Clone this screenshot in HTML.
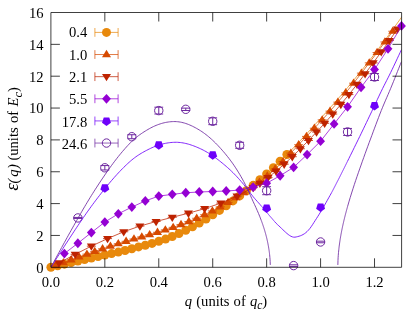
<!DOCTYPE html>
<html><head><meta charset="utf-8"><title>chart</title>
<style>html,body{margin:0;padding:0;background:#fff;}svg{display:block;}</style></head>
<body>
<svg style="will-change:transform" width="415" height="313" viewBox="0 0 415 313">
<rect width="415" height="313" fill="#fff"/>
<defs><clipPath id="cp"><rect x="50.90" y="12.50" width="350.60" height="254.80"/></clipPath></defs>
<g font-family="Liberation Serif, serif" font-size="14.6px" fill="#000">
<text x="50.90" y="286.5" text-anchor="middle">0.0</text>
<text x="104.84" y="286.5" text-anchor="middle">0.2</text>
<text x="158.78" y="286.5" text-anchor="middle">0.4</text>
<text x="212.72" y="286.5" text-anchor="middle">0.6</text>
<text x="266.65" y="286.5" text-anchor="middle">0.8</text>
<text x="320.59" y="286.5" text-anchor="middle">1.0</text>
<text x="374.53" y="286.5" text-anchor="middle">1.2</text>
<text x="43.5" y="272.60" text-anchor="end">0</text>
<text x="43.5" y="240.75" text-anchor="end">2</text>
<text x="43.5" y="208.90" text-anchor="end">4</text>
<text x="43.5" y="177.05" text-anchor="end">6</text>
<text x="43.5" y="145.20" text-anchor="end">8</text>
<text x="43.5" y="113.35" text-anchor="end">10</text>
<text x="43.5" y="81.50" text-anchor="end">12</text>
<text x="43.5" y="49.65" text-anchor="end">14</text>
<text x="43.5" y="17.80" text-anchor="end">16</text>
<text x="226" y="305.7" text-anchor="middle" word-spacing="0.5"><tspan font-style="italic">q</tspan> (units of <tspan font-style="italic">q</tspan><tspan font-style="italic" font-size="11.5px" dy="3.6">c</tspan><tspan dy="-3.6">)</tspan></text>
<g transform="translate(18.2,0) rotate(-90)"><text font-style="italic" font-size="19px" x="-190.8">&#949;</text><text font-style="italic" x="-183.6 -176.8 -169.0">(q)</text><text x="-160.6" word-spacing="0.7"><tspan>(units of </tspan><tspan font-style="italic">E</tspan><tspan font-style="italic" font-size="12.5px" dy="3.8">c</tspan><tspan dy="-3.8">)</tspan></text></g>
<text x="87.3" y="37.40" text-anchor="end">0.4</text>
<text x="87.3" y="59.70" text-anchor="end">1.0</text>
<text x="87.3" y="82.00" text-anchor="end">2.1</text>
<text x="87.3" y="104.30" text-anchor="end">5.5</text>
<text x="87.3" y="126.60" text-anchor="end">17.8</text>
<text x="87.3" y="148.90" text-anchor="end">24.6</text>
</g>
<g>
<polyline clip-path="url(#cp)" fill="none" stroke="#E8890C" stroke-width="0.75" points="286.88,154.54 293.62,147.69 300.37,140.62 307.11,133.30 313.85,125.86 320.59,118.44 327.33,110.97 334.08,103.35 340.82,95.55 347.56,87.59 354.30,79.45 361.05,71.12 367.79,62.62 374.53,53.92 381.27,45.04 388.02,35.97 394.76,26.72 401.50,17.29 408.24,7.68 414.98,-2.12"/>
<polyline clip-path="url(#cp)" fill="none" stroke="#E8890C" stroke-width="0.75" points="50.90,267.30 57.64,265.73 64.38,264.17 71.13,262.60 77.87,261.03 84.61,259.48 91.35,257.98 98.10,256.52 104.84,255.05 111.58,253.60 118.32,252.11 125.07,250.53 131.81,248.75 138.55,246.93 145.29,245.27 152.03,243.44 158.78,241.36 165.52,239.06 172.26,236.45 179.00,233.46 185.75,230.21 192.49,226.72 199.23,222.98 205.97,219.04 212.72,214.84 219.46,210.38 226.20,205.74 232.94,200.91 239.68,195.90 246.43,190.71 253.17,185.34 259.91,179.78 266.65,173.93 273.40,167.73 280.14,161.25 286.88,154.54"/>
<circle cx="50.90" cy="267.30" r="4.5" fill="#E8890C"/>
<circle cx="57.64" cy="265.73" r="4.5" fill="#E8890C"/>
<circle cx="64.38" cy="264.17" r="4.5" fill="#E8890C"/>
<circle cx="71.13" cy="262.60" r="4.5" fill="#E8890C"/>
<circle cx="77.87" cy="261.03" r="4.5" fill="#E8890C"/>
<circle cx="84.61" cy="259.48" r="4.5" fill="#E8890C"/>
<circle cx="91.35" cy="257.98" r="4.5" fill="#E8890C"/>
<circle cx="98.10" cy="256.52" r="4.5" fill="#E8890C"/>
<circle cx="104.84" cy="255.05" r="4.5" fill="#E8890C"/>
<circle cx="111.58" cy="253.60" r="4.5" fill="#E8890C"/>
<circle cx="118.32" cy="252.11" r="4.5" fill="#E8890C"/>
<circle cx="125.07" cy="250.53" r="4.5" fill="#E8890C"/>
<circle cx="131.81" cy="248.75" r="4.5" fill="#E8890C"/>
<circle cx="138.55" cy="246.93" r="4.5" fill="#E8890C"/>
<circle cx="145.29" cy="245.27" r="4.5" fill="#E8890C"/>
<circle cx="152.03" cy="243.44" r="4.5" fill="#E8890C"/>
<circle cx="158.78" cy="241.36" r="4.5" fill="#E8890C"/>
<circle cx="165.52" cy="239.06" r="4.5" fill="#E8890C"/>
<circle cx="172.26" cy="236.45" r="4.5" fill="#E8890C"/>
<circle cx="179.00" cy="233.46" r="4.5" fill="#E8890C"/>
<circle cx="185.75" cy="230.21" r="4.5" fill="#E8890C"/>
<circle cx="192.49" cy="226.72" r="4.5" fill="#E8890C"/>
<circle cx="199.23" cy="222.98" r="4.5" fill="#E8890C"/>
<circle cx="205.97" cy="219.04" r="4.5" fill="#E8890C"/>
<circle cx="212.72" cy="214.84" r="4.5" fill="#E8890C"/>
<circle cx="219.46" cy="210.38" r="4.5" fill="#E8890C"/>
<circle cx="226.20" cy="205.74" r="4.5" fill="#E8890C"/>
<circle cx="232.94" cy="200.91" r="4.5" fill="#E8890C"/>
<circle cx="239.68" cy="195.90" r="4.5" fill="#E8890C"/>
<circle cx="246.43" cy="190.71" r="4.5" fill="#E8890C"/>
<circle cx="253.17" cy="185.34" r="4.5" fill="#E8890C"/>
<circle cx="259.91" cy="179.78" r="4.5" fill="#E8890C"/>
<circle cx="266.65" cy="173.93" r="4.5" fill="#E8890C"/>
<circle cx="273.40" cy="167.73" r="4.5" fill="#E8890C"/>
<circle cx="280.14" cy="161.25" r="4.5" fill="#E8890C"/>
<circle cx="286.88" cy="154.54" r="4.5" fill="#E8890C"/>
<polyline clip-path="url(#cp)" fill="none" stroke="#D64A00" stroke-width="0.75" points="55.54,265.57 63.38,262.67 71.22,259.79 79.07,256.94 86.91,254.16 94.75,251.44 102.59,248.81 110.44,246.24 118.28,243.73 126.12,241.32 133.97,239.01 141.81,236.83 149.65,234.60 157.49,232.28 165.34,229.90 173.18,227.35 181.02,224.55 188.86,221.53 196.71,218.28 204.55,214.76 212.39,210.94 220.23,206.80 228.08,202.37 235.92,197.64 243.76,192.73 251.61,187.61 259.45,182.17 267.29,176.03 275.13,169.06 282.98,161.64 290.82,153.09 298.66,144.71 306.50,136.42 314.35,128.26 322.19,119.85 330.03,111.14 337.87,102.12 345.72,92.82 353.56,83.18 361.40,73.14 369.24,62.86 377.09,52.50 384.93,41.97 392.77,31.22"/>
<path d="M55.54 260.87l4.5 7.3h-9z" fill="#D64A00"/><path d="M51.04 265.57h9" stroke="#D64A00" stroke-width="0.8"/>
<path d="M63.38 257.97l4.5 7.3h-9z" fill="#D64A00"/><path d="M58.88 262.67h9" stroke="#D64A00" stroke-width="0.8"/>
<path d="M71.22 255.09l4.5 7.3h-9z" fill="#D64A00"/><path d="M66.72 259.79h9" stroke="#D64A00" stroke-width="0.8"/>
<path d="M79.07 252.24l4.5 7.3h-9z" fill="#D64A00"/><path d="M74.57 256.94h9" stroke="#D64A00" stroke-width="0.8"/>
<path d="M86.91 249.46l4.5 7.3h-9z" fill="#D64A00"/><path d="M82.41 254.16h9" stroke="#D64A00" stroke-width="0.8"/>
<path d="M94.75 246.74l4.5 7.3h-9z" fill="#D64A00"/><path d="M90.25 251.44h9" stroke="#D64A00" stroke-width="0.8"/>
<path d="M102.59 244.11l4.5 7.3h-9z" fill="#D64A00"/><path d="M98.09 248.81h9" stroke="#D64A00" stroke-width="0.8"/>
<path d="M110.44 241.54l4.5 7.3h-9z" fill="#D64A00"/><path d="M105.94 246.24h9" stroke="#D64A00" stroke-width="0.8"/>
<path d="M118.28 239.03l4.5 7.3h-9z" fill="#D64A00"/><path d="M113.78 243.73h9" stroke="#D64A00" stroke-width="0.8"/>
<path d="M126.12 236.62l4.5 7.3h-9z" fill="#D64A00"/><path d="M121.62 241.32h9" stroke="#D64A00" stroke-width="0.8"/>
<path d="M133.97 234.31l4.5 7.3h-9z" fill="#D64A00"/><path d="M129.47 239.01h9" stroke="#D64A00" stroke-width="0.8"/>
<path d="M141.81 232.13l4.5 7.3h-9z" fill="#D64A00"/><path d="M137.31 236.83h9" stroke="#D64A00" stroke-width="0.8"/>
<path d="M149.65 229.90l4.5 7.3h-9z" fill="#D64A00"/><path d="M145.15 234.60h9" stroke="#D64A00" stroke-width="0.8"/>
<path d="M157.49 227.58l4.5 7.3h-9z" fill="#D64A00"/><path d="M152.99 232.28h9" stroke="#D64A00" stroke-width="0.8"/>
<path d="M165.34 225.20l4.5 7.3h-9z" fill="#D64A00"/><path d="M160.84 229.90h9" stroke="#D64A00" stroke-width="0.8"/>
<path d="M173.18 222.65l4.5 7.3h-9z" fill="#D64A00"/><path d="M168.68 227.35h9" stroke="#D64A00" stroke-width="0.8"/>
<path d="M181.02 219.85l4.5 7.3h-9z" fill="#D64A00"/><path d="M176.52 224.55h9" stroke="#D64A00" stroke-width="0.8"/>
<path d="M188.86 216.83l4.5 7.3h-9z" fill="#D64A00"/><path d="M184.36 221.53h9" stroke="#D64A00" stroke-width="0.8"/>
<path d="M196.71 213.58l4.5 7.3h-9z" fill="#D64A00"/><path d="M192.21 218.28h9" stroke="#D64A00" stroke-width="0.8"/>
<path d="M204.55 210.06l4.5 7.3h-9z" fill="#D64A00"/><path d="M200.05 214.76h9" stroke="#D64A00" stroke-width="0.8"/>
<path d="M212.39 206.24l4.5 7.3h-9z" fill="#D64A00"/><path d="M207.89 210.94h9" stroke="#D64A00" stroke-width="0.8"/>
<path d="M220.23 202.10l4.5 7.3h-9z" fill="#D64A00"/><path d="M215.73 206.80h9" stroke="#D64A00" stroke-width="0.8"/>
<path d="M228.08 197.67l4.5 7.3h-9z" fill="#D64A00"/><path d="M223.58 202.37h9" stroke="#D64A00" stroke-width="0.8"/>
<path d="M235.92 192.94l4.5 7.3h-9z" fill="#D64A00"/><path d="M231.42 197.64h9" stroke="#D64A00" stroke-width="0.8"/>
<path d="M243.76 188.03l4.5 7.3h-9z" fill="#D64A00"/><path d="M239.26 192.73h9" stroke="#D64A00" stroke-width="0.8"/>
<path d="M251.61 182.91l4.5 7.3h-9z" fill="#D64A00"/><path d="M247.11 187.61h9" stroke="#D64A00" stroke-width="0.8"/>
<path d="M259.45 177.47l4.5 7.3h-9z" fill="#D64A00"/><path d="M254.95 182.17h9" stroke="#D64A00" stroke-width="0.8"/>
<path d="M267.29 171.33l4.5 7.3h-9z" fill="#D64A00"/><path d="M262.79 176.03h9" stroke="#D64A00" stroke-width="0.8"/>
<path d="M275.13 164.36l4.5 7.3h-9z" fill="#D64A00"/><path d="M270.63 169.06h9" stroke="#D64A00" stroke-width="0.8"/>
<path d="M282.98 156.94l4.5 7.3h-9z" fill="#D64A00"/><path d="M278.48 161.64h9" stroke="#D64A00" stroke-width="0.8"/>
<path d="M290.82 148.39l4.5 7.3h-9z" fill="#D64A00"/><path d="M286.32 153.09h9" stroke="#D64A00" stroke-width="0.8"/>
<path d="M298.66 140.01l4.5 7.3h-9z" fill="#D64A00"/><path d="M294.16 144.71h9" stroke="#D64A00" stroke-width="0.8"/>
<path d="M306.50 131.72l4.5 7.3h-9z" fill="#D64A00"/><path d="M302.00 136.42h9" stroke="#D64A00" stroke-width="0.8"/>
<path d="M314.35 123.56l4.5 7.3h-9z" fill="#D64A00"/><path d="M309.85 128.26h9" stroke="#D64A00" stroke-width="0.8"/>
<path d="M322.19 115.15l4.5 7.3h-9z" fill="#D64A00"/><path d="M317.69 119.85h9" stroke="#D64A00" stroke-width="0.8"/>
<path d="M330.03 106.44l4.5 7.3h-9z" fill="#D64A00"/><path d="M325.53 111.14h9" stroke="#D64A00" stroke-width="0.8"/>
<path d="M337.87 97.42l4.5 7.3h-9z" fill="#D64A00"/><path d="M333.37 102.12h9" stroke="#D64A00" stroke-width="0.8"/>
<path d="M345.72 88.12l4.5 7.3h-9z" fill="#D64A00"/><path d="M341.22 92.82h9" stroke="#D64A00" stroke-width="0.8"/>
<path d="M353.56 78.48l4.5 7.3h-9z" fill="#D64A00"/><path d="M349.06 83.18h9" stroke="#D64A00" stroke-width="0.8"/>
<path d="M361.40 68.44l4.5 7.3h-9z" fill="#D64A00"/><path d="M356.90 73.14h9" stroke="#D64A00" stroke-width="0.8"/>
<path d="M369.24 58.16l4.5 7.3h-9z" fill="#D64A00"/><path d="M364.74 62.86h9" stroke="#D64A00" stroke-width="0.8"/>
<path d="M377.09 47.80l4.5 7.3h-9z" fill="#D64A00"/><path d="M372.59 52.50h9" stroke="#D64A00" stroke-width="0.8"/>
<path d="M384.93 37.27l4.5 7.3h-9z" fill="#D64A00"/><path d="M380.43 41.97h9" stroke="#D64A00" stroke-width="0.8"/>
<path d="M392.77 26.52l4.5 7.3h-9z" fill="#D64A00"/><path d="M388.27 31.22h9" stroke="#D64A00" stroke-width="0.8"/>
<polyline clip-path="url(#cp)" fill="none" stroke="#BE2300" stroke-width="0.75" points="58.99,262.94 75.17,254.35 91.35,246.15 107.54,238.61 123.72,231.74 139.90,226.09 156.08,221.50 172.26,217.31 188.44,213.19 204.62,208.66 220.81,203.13 236.99,196.20 253.17,187.59 259.91,183.31 268.00,177.56 276.09,171.19 284.18,164.18 292.27,156.71 300.37,148.75 308.46,140.52 316.55,132.03 324.64,123.25 332.73,114.04 340.82,104.45 348.91,94.58 357.00,84.33 365.09,73.73 373.18,62.90 381.27,51.87 389.36,40.56 397.45,29.14"/>
<path d="M58.99 267.64l4.5 -7.3h-9z" fill="#BE2300"/><path d="M54.49 262.94h9" stroke="#BE2300" stroke-width="0.8"/>
<path d="M75.17 259.05l4.5 -7.3h-9z" fill="#BE2300"/><path d="M70.67 254.35h9" stroke="#BE2300" stroke-width="0.8"/>
<path d="M91.35 250.85l4.5 -7.3h-9z" fill="#BE2300"/><path d="M86.85 246.15h9" stroke="#BE2300" stroke-width="0.8"/>
<path d="M107.54 243.31l4.5 -7.3h-9z" fill="#BE2300"/><path d="M103.04 238.61h9" stroke="#BE2300" stroke-width="0.8"/>
<path d="M123.72 236.44l4.5 -7.3h-9z" fill="#BE2300"/><path d="M119.22 231.74h9" stroke="#BE2300" stroke-width="0.8"/>
<path d="M139.90 230.79l4.5 -7.3h-9z" fill="#BE2300"/><path d="M135.40 226.09h9" stroke="#BE2300" stroke-width="0.8"/>
<path d="M156.08 226.20l4.5 -7.3h-9z" fill="#BE2300"/><path d="M151.58 221.50h9" stroke="#BE2300" stroke-width="0.8"/>
<path d="M172.26 222.01l4.5 -7.3h-9z" fill="#BE2300"/><path d="M167.76 217.31h9" stroke="#BE2300" stroke-width="0.8"/>
<path d="M188.44 217.89l4.5 -7.3h-9z" fill="#BE2300"/><path d="M183.94 213.19h9" stroke="#BE2300" stroke-width="0.8"/>
<path d="M204.62 213.36l4.5 -7.3h-9z" fill="#BE2300"/><path d="M200.12 208.66h9" stroke="#BE2300" stroke-width="0.8"/>
<path d="M220.81 207.83l4.5 -7.3h-9z" fill="#BE2300"/><path d="M216.31 203.13h9" stroke="#BE2300" stroke-width="0.8"/>
<path d="M236.99 200.90l4.5 -7.3h-9z" fill="#BE2300"/><path d="M232.49 196.20h9" stroke="#BE2300" stroke-width="0.8"/>
<path d="M253.17 192.29l4.5 -7.3h-9z" fill="#BE2300"/><path d="M248.67 187.59h9" stroke="#BE2300" stroke-width="0.8"/>
<path d="M259.91 188.01l4.5 -7.3h-9z" fill="#BE2300"/><path d="M255.41 183.31h9" stroke="#BE2300" stroke-width="0.8"/>
<path d="M268.00 182.26l4.5 -7.3h-9z" fill="#BE2300"/><path d="M263.50 177.56h9" stroke="#BE2300" stroke-width="0.8"/>
<path d="M276.09 175.89l4.5 -7.3h-9z" fill="#BE2300"/><path d="M271.59 171.19h9" stroke="#BE2300" stroke-width="0.8"/>
<path d="M284.18 168.88l4.5 -7.3h-9z" fill="#BE2300"/><path d="M279.68 164.18h9" stroke="#BE2300" stroke-width="0.8"/>
<path d="M292.27 161.41l4.5 -7.3h-9z" fill="#BE2300"/><path d="M287.77 156.71h9" stroke="#BE2300" stroke-width="0.8"/>
<path d="M300.37 153.45l4.5 -7.3h-9z" fill="#BE2300"/><path d="M295.87 148.75h9" stroke="#BE2300" stroke-width="0.8"/>
<path d="M308.46 145.22l4.5 -7.3h-9z" fill="#BE2300"/><path d="M303.96 140.52h9" stroke="#BE2300" stroke-width="0.8"/>
<path d="M316.55 136.73l4.5 -7.3h-9z" fill="#BE2300"/><path d="M312.05 132.03h9" stroke="#BE2300" stroke-width="0.8"/>
<path d="M324.64 127.95l4.5 -7.3h-9z" fill="#BE2300"/><path d="M320.14 123.25h9" stroke="#BE2300" stroke-width="0.8"/>
<path d="M332.73 118.74l4.5 -7.3h-9z" fill="#BE2300"/><path d="M328.23 114.04h9" stroke="#BE2300" stroke-width="0.8"/>
<path d="M340.82 109.15l4.5 -7.3h-9z" fill="#BE2300"/><path d="M336.32 104.45h9" stroke="#BE2300" stroke-width="0.8"/>
<path d="M348.91 99.28l4.5 -7.3h-9z" fill="#BE2300"/><path d="M344.41 94.58h9" stroke="#BE2300" stroke-width="0.8"/>
<path d="M357.00 89.03l4.5 -7.3h-9z" fill="#BE2300"/><path d="M352.50 84.33h9" stroke="#BE2300" stroke-width="0.8"/>
<path d="M365.09 78.43l4.5 -7.3h-9z" fill="#BE2300"/><path d="M360.59 73.73h9" stroke="#BE2300" stroke-width="0.8"/>
<path d="M373.18 67.60l4.5 -7.3h-9z" fill="#BE2300"/><path d="M368.68 62.90h9" stroke="#BE2300" stroke-width="0.8"/>
<path d="M381.27 56.57l4.5 -7.3h-9z" fill="#BE2300"/><path d="M376.77 51.87h9" stroke="#BE2300" stroke-width="0.8"/>
<path d="M389.36 45.26l4.5 -7.3h-9z" fill="#BE2300"/><path d="M384.86 40.56h9" stroke="#BE2300" stroke-width="0.8"/>
<path d="M397.45 33.84l4.5 -7.3h-9z" fill="#BE2300"/><path d="M392.95 29.14h9" stroke="#BE2300" stroke-width="0.8"/>
<polyline clip-path="url(#cp)" fill="none" stroke="#9400D3" stroke-width="0.75" points="64.38,253.60 77.87,243.25 91.35,232.58 104.84,222.07 118.32,213.79 131.81,207.10 145.29,200.89 158.78,196.12 172.26,194.36 185.75,192.77 199.23,191.97 212.72,191.50 226.20,191.02 239.68,190.06 253.17,187.20 266.65,183.22 280.14,175.73 293.62,167.29 307.11,154.55 320.59,141.17 334.08,123.97 347.56,106.78 361.05,87.35 374.53,69.51 388.02,48.81 401.50,25.88"/>
<path d="M64.38 248.70l4.4 4.9l-4.4 4.9l-4.4 -4.9z" fill="#9400D3"/>
<path d="M77.87 238.35l4.4 4.9l-4.4 4.9l-4.4 -4.9z" fill="#9400D3"/>
<path d="M91.35 227.68l4.4 4.9l-4.4 4.9l-4.4 -4.9z" fill="#9400D3"/>
<path d="M104.84 217.17l4.4 4.9l-4.4 4.9l-4.4 -4.9z" fill="#9400D3"/>
<path d="M118.32 208.89l4.4 4.9l-4.4 4.9l-4.4 -4.9z" fill="#9400D3"/>
<path d="M131.81 202.20l4.4 4.9l-4.4 4.9l-4.4 -4.9z" fill="#9400D3"/>
<path d="M145.29 195.99l4.4 4.9l-4.4 4.9l-4.4 -4.9z" fill="#9400D3"/>
<path d="M158.78 191.22l4.4 4.9l-4.4 4.9l-4.4 -4.9z" fill="#9400D3"/>
<path d="M172.26 189.46l4.4 4.9l-4.4 4.9l-4.4 -4.9z" fill="#9400D3"/>
<path d="M185.75 187.87l4.4 4.9l-4.4 4.9l-4.4 -4.9z" fill="#9400D3"/>
<path d="M199.23 187.07l4.4 4.9l-4.4 4.9l-4.4 -4.9z" fill="#9400D3"/>
<path d="M212.72 186.60l4.4 4.9l-4.4 4.9l-4.4 -4.9z" fill="#9400D3"/>
<path d="M226.20 186.12l4.4 4.9l-4.4 4.9l-4.4 -4.9z" fill="#9400D3"/>
<path d="M239.68 185.16l4.4 4.9l-4.4 4.9l-4.4 -4.9z" fill="#9400D3"/>
<path d="M253.17 182.30l4.4 4.9l-4.4 4.9l-4.4 -4.9z" fill="#9400D3"/>
<path d="M266.65 178.32l4.4 4.9l-4.4 4.9l-4.4 -4.9z" fill="#9400D3"/>
<path d="M280.14 170.83l4.4 4.9l-4.4 4.9l-4.4 -4.9z" fill="#9400D3"/>
<path d="M293.62 162.39l4.4 4.9l-4.4 4.9l-4.4 -4.9z" fill="#9400D3"/>
<path d="M307.11 149.65l4.4 4.9l-4.4 4.9l-4.4 -4.9z" fill="#9400D3"/>
<path d="M320.59 136.27l4.4 4.9l-4.4 4.9l-4.4 -4.9z" fill="#9400D3"/>
<path d="M334.08 119.07l4.4 4.9l-4.4 4.9l-4.4 -4.9z" fill="#9400D3"/>
<path d="M347.56 101.88l4.4 4.9l-4.4 4.9l-4.4 -4.9z" fill="#9400D3"/>
<path d="M361.05 82.45l4.4 4.9l-4.4 4.9l-4.4 -4.9z" fill="#9400D3"/>
<path d="M374.53 64.61l4.4 4.9l-4.4 4.9l-4.4 -4.9z" fill="#9400D3"/>
<path d="M388.02 43.91l4.4 4.9l-4.4 4.9l-4.4 -4.9z" fill="#9400D3"/>
<path d="M401.50 20.98l4.4 4.9l-4.4 4.9l-4.4 -4.9z" fill="#9400D3"/>
<path d="M104.84 192.68L100.37 189.43L102.08 184.17L107.60 184.17L109.31 189.43z" fill="#6E00FA"/>
<path d="M158.78 149.68L154.31 146.43L156.01 141.18L161.54 141.18L163.25 146.43z" fill="#6E00FA"/>
<path d="M212.72 159.87L208.25 156.62L209.95 151.37L215.48 151.37L217.19 156.62z" fill="#6E00FA"/>
<path d="M266.65 212.90L262.18 209.65L263.89 204.40L269.42 204.40L271.12 209.65z" fill="#6E00FA"/>
<path d="M320.59 212.10L316.12 208.86L317.83 203.60L323.35 203.60L325.06 208.86z" fill="#6E00FA"/>
<path d="M374.53 110.50L370.06 107.25L371.77 102.00L377.29 102.00L379.00 107.25z" fill="#6E00FA"/>
<path d="M77.87 217.93V217.93M73.47 217.43h8.8M73.47 218.43h8.8" stroke="#6E28A0" stroke-width="1" fill="none"/>
<circle cx="77.87" cy="217.93" r="4.2" fill="none" stroke="#6E28A0" stroke-width="1"/>
<path d="M104.84 165.57V169.97M100.44 165.57h8.8M100.44 169.97h8.8" stroke="#6E28A0" stroke-width="1" fill="none"/>
<circle cx="104.84" cy="167.77" r="4.2" fill="none" stroke="#6E28A0" stroke-width="1"/>
<path d="M131.81 134.72V138.72M127.41 134.72h8.8M127.41 138.72h8.8" stroke="#6E28A0" stroke-width="1" fill="none"/>
<circle cx="131.81" cy="136.72" r="4.2" fill="none" stroke="#6E28A0" stroke-width="1"/>
<path d="M158.78 107.20V114.00M154.38 107.20h8.8M154.38 114.00h8.8" stroke="#6E28A0" stroke-width="1" fill="none"/>
<circle cx="158.78" cy="110.60" r="4.2" fill="none" stroke="#6E28A0" stroke-width="1"/>
<path d="M185.75 108.12V110.52M181.35 108.12h8.8M181.35 110.52h8.8" stroke="#6E28A0" stroke-width="1" fill="none"/>
<circle cx="185.75" cy="109.32" r="4.2" fill="none" stroke="#6E28A0" stroke-width="1"/>
<path d="M212.72 117.87V124.67M208.32 117.87h8.8M208.32 124.67h8.8" stroke="#6E28A0" stroke-width="1" fill="none"/>
<circle cx="212.72" cy="121.27" r="4.2" fill="none" stroke="#6E28A0" stroke-width="1"/>
<path d="M239.68 142.31V148.31M235.28 142.31h8.8M235.28 148.31h8.8" stroke="#6E28A0" stroke-width="1" fill="none"/>
<circle cx="239.68" cy="145.31" r="4.2" fill="none" stroke="#6E28A0" stroke-width="1"/>
<path d="M266.65 186.70V194.70M262.25 186.70h8.8M262.25 194.70h8.8" stroke="#6E28A0" stroke-width="1" fill="none"/>
<circle cx="266.65" cy="190.70" r="4.2" fill="none" stroke="#6E28A0" stroke-width="1"/>
<path d="M293.62 265.60V265.60M289.22 264.80h8.8M289.22 266.40h8.8" stroke="#6E28A0" stroke-width="1" fill="none"/>
<circle cx="293.62" cy="265.60" r="4.2" fill="none" stroke="#6E28A0" stroke-width="1"/>
<path d="M320.59 241.98V241.98M316.19 241.18h8.8M316.19 242.78h8.8" stroke="#6E28A0" stroke-width="1" fill="none"/>
<circle cx="320.59" cy="241.98" r="4.2" fill="none" stroke="#6E28A0" stroke-width="1"/>
<path d="M347.56 128.44V135.44M343.16 128.44h8.8M343.16 135.44h8.8" stroke="#6E28A0" stroke-width="1" fill="none"/>
<circle cx="347.56" cy="131.94" r="4.2" fill="none" stroke="#6E28A0" stroke-width="1"/>
<path d="M374.53 73.50V80.50M370.13 73.50h8.8M370.13 80.50h8.8" stroke="#6E28A0" stroke-width="1" fill="none"/>
<circle cx="374.53" cy="77.00" r="4.2" fill="none" stroke="#6E28A0" stroke-width="1"/>
<polyline clip-path="url(#cp)" fill="none" stroke="#6E00FA" stroke-width="0.85" points="50.90,267.30 52.25,265.18 53.60,263.06 54.95,260.95 56.29,258.83 57.64,256.72 58.99,254.61 60.34,252.51 61.69,250.41 63.04,248.32 64.38,246.23 65.73,244.14 67.08,242.07 68.43,240.00 69.78,237.93 71.13,235.87 72.48,233.82 73.82,231.77 75.17,229.73 76.52,227.70 77.87,225.67 79.22,223.66 80.57,221.66 81.91,219.67 83.26,217.70 84.61,215.75 85.96,213.82 87.31,211.91 88.66,210.02 90.01,208.14 91.35,206.29 92.70,204.45 94.05,202.63 95.40,200.83 96.75,199.05 98.10,197.28 99.44,195.54 100.79,193.80 102.14,192.08 103.49,190.38 104.84,188.69 106.19,187.01 107.54,185.36 108.88,183.72 110.23,182.11 111.58,180.53 112.93,178.97 114.28,177.43 115.63,175.92 116.97,174.43 118.32,172.97 119.67,171.54 121.02,170.13 122.37,168.75 123.72,167.40 125.07,166.08 126.41,164.79 127.76,163.53 129.11,162.31 130.46,161.11 131.81,159.96 133.16,158.87 134.50,157.83 135.85,156.84 137.20,155.89 138.55,155.00 139.90,154.14 141.25,153.32 142.60,152.53 143.94,151.78 145.29,151.04 146.64,150.33 147.99,149.63 149.34,148.95 150.69,148.30 152.03,147.68 153.38,147.10 154.73,146.55 156.08,146.03 157.43,145.55 158.78,145.10 160.13,144.68 161.47,144.29 162.82,143.94 164.17,143.62 165.52,143.34 166.87,143.09 168.22,142.87 169.56,142.68 170.91,142.53 172.26,142.41 173.61,142.33 174.96,142.28 176.31,142.28 177.66,142.32 179.00,142.41 180.35,142.54 181.70,142.71 183.05,142.92 184.40,143.18 185.75,143.47 187.09,143.80 188.44,144.16 189.79,144.56 191.14,145.00 192.49,145.47 193.84,145.96 195.19,146.48 196.53,147.03 197.88,147.60 199.23,148.19 200.58,148.80 201.93,149.45 203.28,150.13 204.62,150.85 205.97,151.60 207.32,152.38 208.67,153.20 210.02,154.05 211.37,154.93 212.72,155.83 214.06,156.77 215.41,157.74 216.76,158.74 218.11,159.76 219.46,160.81 220.81,161.89 222.15,162.98 223.50,164.10 224.85,165.23 226.20,166.39 227.55,167.57 228.90,168.78 230.25,170.03 231.59,171.31 232.94,172.62 234.29,173.98 235.64,175.38 236.99,176.81 238.34,178.27 239.68,179.78 241.03,181.31 242.38,182.89 243.73,184.51 245.08,186.16 246.43,187.88 247.78,189.66 249.12,191.48 250.47,193.29 251.82,195.05 253.17,196.71 254.52,198.30 255.87,199.85 257.21,201.36 258.56,202.87 259.91,204.39 261.26,205.94 261.39,206.10 261.53,206.26 261.66,206.41 261.80,206.57 261.93,206.72 262.07,206.88 262.20,207.03 262.34,207.19 262.47,207.34 262.61,207.50 262.74,207.65 262.88,207.81 263.01,207.97 263.15,208.12 263.28,208.28 263.42,208.43 263.55,208.59 263.69,208.75 263.82,208.90 263.96,209.06 264.09,209.22 264.23,209.37 264.36,209.53 264.50,209.69 264.63,209.84 264.77,210.00 264.90,210.16 265.04,210.32 265.17,210.48 265.31,210.63 265.44,210.79 265.58,210.95 265.71,211.11 265.84,211.27 265.98,211.43 266.11,211.59 266.25,211.75 266.38,211.91 266.52,212.07 266.65,212.23 266.79,212.39 266.92,212.55 267.06,212.71 267.19,212.88 267.33,213.04 267.46,213.20 267.60,213.37 267.73,213.53 267.87,213.69 268.00,213.86 268.00,213.86 268.14,214.02 268.27,214.18 268.41,214.35 268.54,214.51 268.68,214.67 268.81,214.83 268.95,214.99 269.08,215.15 269.22,215.31 269.35,215.47 269.35,215.47 269.49,215.63 269.62,215.79 269.76,215.95 269.89,216.10 270.02,216.26 270.16,216.41 270.29,216.56 270.43,216.71 270.56,216.86 270.70,217.02 270.70,217.02 270.83,217.17 270.97,217.33 271.10,217.48 271.24,217.64 271.37,217.79 271.51,217.95 271.64,218.11 271.78,218.26 271.91,218.42 272.05,218.58 272.05,218.58 272.18,218.74 272.32,218.90 272.45,219.06 272.59,219.22 272.72,219.38 272.86,219.54 272.99,219.70 273.13,219.86 273.26,220.02 273.40,220.17 273.40,220.17 273.53,220.33 273.67,220.49 273.80,220.65 273.94,220.81 274.07,220.97 274.21,221.12 274.34,221.28 274.47,221.43 274.61,221.59 274.74,221.74 274.74,221.74 276.09,223.23 277.44,224.55 278.79,225.79 280.14,227.06 281.49,228.36 282.84,229.66 284.18,230.95 285.53,232.20 286.88,233.40 288.23,234.49 289.58,235.46 290.93,236.25 292.27,236.83 293.62,237.15 294.97,237.16 296.32,236.91 297.67,236.60 299.02,236.23 300.37,235.79 301.71,235.24 303.06,234.56 304.41,233.72 305.76,232.72 307.11,231.53 308.46,230.14 309.80,228.55 311.15,226.74 312.50,224.71 313.85,222.60 315.20,220.50 316.55,218.41 317.90,216.30 319.24,214.17 320.59,212.00 321.94,209.75 323.29,207.44 324.64,205.07 325.99,202.66 327.33,200.25 328.68,197.84 330.03,195.45 331.38,193.02 331.51,192.77 331.65,192.52 331.78,192.27 331.92,192.02 332.05,191.76 332.19,191.51 332.32,191.26 332.46,191.00 332.59,190.75 332.73,190.49 332.86,190.23 333.00,189.97 333.13,189.72 333.27,189.46 333.40,189.20 333.54,188.94 333.67,188.68 333.81,188.42 333.94,188.15 334.08,187.89 334.21,187.63 334.35,187.37 334.48,187.11 334.62,186.84 334.75,186.58 334.89,186.32 335.02,186.06 335.16,185.79 335.29,185.53 335.43,185.27 335.43,185.27 335.56,185.00 335.70,184.74 335.83,184.48 335.96,184.21 336.10,183.95 336.23,183.69 336.37,183.42 336.50,183.16 336.64,182.90 336.77,182.64 336.91,182.37 337.04,182.11 337.18,181.85 337.31,181.59 337.45,181.33 337.58,181.07 337.72,180.81 337.85,180.55 337.99,180.29 338.12,180.03 338.26,179.77 338.39,179.50 338.53,179.24 338.66,178.98 338.80,178.72 338.93,178.45 339.07,178.19 339.20,177.92 339.34,177.66 339.47,177.39 339.61,177.13 339.74,176.86 339.88,176.59 340.01,176.33 340.14,176.06 340.28,175.79 340.41,175.52 340.55,175.26 340.68,174.99 340.82,174.72 340.82,174.72 340.95,174.45 341.09,174.18 341.22,173.91 341.36,173.64 341.49,173.37 341.63,173.10 341.76,172.83 341.90,172.56 342.03,172.29 342.17,172.02 342.30,171.75 342.44,171.48 342.57,171.21 342.71,170.94 342.84,170.67 342.98,170.40 343.11,170.13 343.25,169.86 343.38,169.59 343.52,169.32 343.65,169.05 343.79,168.78 343.92,168.51 344.06,168.23 344.19,167.96 344.33,167.69 344.46,167.42 344.59,167.15 344.73,166.88 344.86,166.61 345.00,166.34 345.13,166.07 345.27,165.80 345.40,165.53 345.54,165.25 345.67,164.98 345.81,164.71 345.94,164.44 346.08,164.17 346.21,163.90 346.21,163.90 346.35,163.63 346.48,163.35 346.62,163.08 346.75,162.81 346.89,162.54 347.02,162.27 347.16,162.00 347.29,161.72 347.43,161.45 347.56,161.18 348.91,158.46 350.26,155.73 351.61,153.00 352.96,150.26 354.30,147.52 355.65,144.78 357.00,142.04 358.35,139.30 359.70,136.55 361.05,133.78 362.39,130.99 363.74,128.19 365.09,125.37 366.44,122.55 367.79,119.73 369.14,116.90 370.49,114.08 371.83,111.25 373.18,108.39 374.53,105.52 375.88,102.64 377.23,99.76 378.58,96.89 379.92,94.05 381.27,91.25 382.62,88.48 383.97,85.77 385.32,83.11 386.67,80.47 388.02,77.82 389.36,75.15 390.71,72.43 392.06,69.65 393.41,66.83 394.76,63.98 396.11,61.10 397.45,58.22 398.80,55.34 400.15,52.47 401.50,49.63"/>
<polyline clip-path="url(#cp)" fill="none" stroke="#6E28A0" stroke-width="0.85" points="50.90,267.30 52.25,264.81 53.60,262.32 54.95,259.83 56.29,257.34 57.64,254.86 58.99,252.38 60.34,249.91 61.69,247.44 63.04,244.98 64.38,242.53 65.73,240.08 67.08,237.64 68.43,235.20 69.78,232.78 71.13,230.36 72.48,227.94 73.82,225.54 75.17,223.14 76.52,220.75 77.87,218.37 79.22,216.00 80.57,213.65 81.91,211.32 83.26,209.01 84.61,206.72 85.96,204.45 87.31,202.21 88.66,199.98 90.01,197.78 91.35,195.60 92.70,193.45 94.05,191.31 95.40,189.20 96.75,187.11 98.10,185.04 99.44,182.99 100.79,180.95 102.14,178.94 103.49,176.94 104.84,174.95 106.19,172.99 107.54,171.05 108.88,169.14 110.23,167.25 111.58,165.39 112.93,163.56 114.28,161.76 115.63,159.99 116.97,158.26 118.32,156.55 119.67,154.87 121.02,153.23 122.37,151.62 123.72,150.05 125.07,148.51 126.41,147.00 127.76,145.53 129.11,144.10 130.46,142.71 131.81,141.37 133.16,140.10 134.50,138.90 135.85,137.75 137.20,136.66 138.55,135.62 139.90,134.63 141.25,133.69 142.60,132.78 143.94,131.92 145.29,131.08 146.64,130.26 147.99,129.46 149.34,128.68 150.69,127.95 152.03,127.25 153.38,126.59 154.73,125.98 156.08,125.40 157.43,124.86 158.78,124.36 160.13,123.91 161.47,123.49 162.82,123.11 164.17,122.78 165.52,122.48 166.87,122.23 168.22,122.02 169.56,121.84 170.91,121.71 172.26,121.62 173.61,121.57 174.96,121.57 176.31,121.62 177.66,121.73 179.00,121.89 180.35,122.11 181.70,122.37 183.05,122.69 184.40,123.06 185.75,123.47 187.09,123.94 188.44,124.45 189.79,125.00 191.14,125.60 192.49,126.24 193.84,126.92 195.19,127.63 196.53,128.37 197.88,129.15 199.23,129.95 200.58,130.78 201.93,131.67 203.28,132.59 204.62,133.57 205.97,134.58 207.32,135.65 208.67,136.75 210.02,137.90 211.37,139.10 212.72,140.34 214.06,141.62 215.41,142.94 216.76,144.31 218.11,145.71 219.46,147.16 220.81,148.65 222.15,150.16 223.50,151.72 224.85,153.31 226.20,154.94 227.55,156.61 228.90,158.33 230.25,160.11 231.59,161.94 232.94,163.84 234.29,165.81 235.64,167.84 236.99,169.94 238.34,172.11 239.68,174.35 241.03,176.67 242.38,179.06 243.73,181.55 245.08,184.12 246.43,186.82 247.78,189.66 249.12,192.61 250.47,195.62 251.82,198.63 253.17,201.58 254.52,204.50 255.87,207.45 257.21,210.46 258.56,213.57 259.91,216.87 261.26,220.39 261.39,220.76 261.53,221.12 261.66,221.49 261.80,221.86 261.93,222.24 262.07,222.61 262.20,222.99 262.34,223.37 262.47,223.76 262.61,224.15 262.74,224.54 262.88,224.93 263.01,225.33 263.15,225.73 263.28,226.13 263.42,226.54 263.55,226.95 263.69,227.36 263.82,227.78 263.96,228.21 264.09,228.63 264.23,229.06 264.36,229.50 264.50,229.94 264.63,230.39 264.77,230.84 264.90,231.29 265.04,231.75 265.17,232.22 265.31,232.69 265.44,233.17 265.58,233.66 265.71,234.15 265.84,234.65 265.98,235.16 266.11,235.67 266.25,236.20 266.38,236.73 266.52,237.27 266.65,237.82 266.79,238.39 266.92,238.96 267.06,239.54 267.19,240.14 267.33,240.75 267.46,241.38 267.60,242.02 267.73,242.67 267.87,243.35 268.00,244.04 268.00,244.04 268.14,244.75 268.27,245.48 268.41,246.24 268.54,247.02 268.68,247.83 268.81,248.67 268.95,249.55 269.08,250.46 269.22,251.43 269.35,252.45 269.35,252.45 269.49,253.55 269.62,254.73 269.76,256.02 269.89,257.48 270.02,259.18 270.16,261.32 270.29,264.91"/>
<polyline clip-path="url(#cp)" fill="none" stroke="#6E28A0" stroke-width="0.85" points="337.85,264.96 337.99,260.35 338.12,257.73 338.26,255.68 338.39,253.93 338.53,252.37 338.66,250.96 338.80,249.64 338.93,248.42 339.07,247.25 339.20,246.15 339.34,245.10 339.47,244.08 339.61,243.11 339.74,242.16 339.88,241.25 340.01,240.36 340.14,239.50 340.28,238.66 340.41,237.83 340.55,237.03 340.68,236.24 340.82,235.47 340.82,235.47 340.95,234.71 341.09,233.97 341.22,233.24 341.36,232.52 341.49,231.82 341.63,231.12 341.76,230.44 341.90,229.76 342.03,229.09 342.17,228.44 342.30,227.79 342.44,227.15 342.57,226.51 342.71,225.89 342.84,225.27 342.98,224.66 343.11,224.05 343.25,223.45 343.38,222.86 343.52,222.27 343.65,221.69 343.79,221.12 343.92,220.55 344.06,219.98 344.19,219.42 344.33,218.87 344.46,218.32 344.59,217.77 344.73,217.23 344.86,216.69 345.00,216.15 345.13,215.62 345.27,215.09 345.40,214.57 345.54,214.04 345.67,213.53 345.81,213.01 345.94,212.50 346.08,211.99 346.21,211.49 346.21,211.49 346.35,210.98 346.48,210.48 346.62,209.98 346.75,209.49 346.89,209.00 347.02,208.51 347.16,208.02 347.29,207.54 347.43,207.05 347.56,206.57 348.91,201.88 350.26,197.37 351.61,193.01 352.96,188.77 354.30,184.63 355.65,180.59 357.00,176.62 358.35,172.73 359.70,168.89 361.05,165.07 362.39,161.26 363.74,157.49 365.09,153.73 366.44,150.01 367.79,146.32 369.14,142.66 370.49,139.04 371.83,135.44 373.18,131.81 374.53,128.19 375.88,124.58 377.23,120.99 378.58,117.45 379.92,113.97 381.27,110.55 382.62,107.22 383.97,103.99 385.32,100.84 386.67,97.73 388.02,94.63 389.36,91.50 390.71,88.31 392.06,85.04 393.41,81.72 394.76,78.36 396.11,74.98 397.45,71.60 398.80,68.23 400.15,64.89 401.50,61.60"/>
</g>
<g stroke="#000" stroke-width="0.75" fill="none">
<path d="M50.9 12.5H401.6V267.3H50.9Z"/>
<path d="M104.84 267.3v-9M104.84 12.5v9"/>
<path d="M158.78 267.3v-9M158.78 12.5v9"/>
<path d="M212.72 267.3v-9M212.72 12.5v9"/>
<path d="M266.65 267.3v-9M266.65 12.5v9"/>
<path d="M320.59 267.3v-9M320.59 12.5v9"/>
<path d="M374.53 267.3v-9M374.53 12.5v9"/>
<path d="M50.9 235.45h9M401.5 235.45h-9"/>
<path d="M50.9 203.60h9M401.5 203.60h-9"/>
<path d="M50.9 171.75h9M401.5 171.75h-9"/>
<path d="M50.9 139.90h9M401.5 139.90h-9"/>
<path d="M50.9 108.05h9M401.5 108.05h-9"/>
<path d="M50.9 76.20h9M401.5 76.20h-9"/>
<path d="M50.9 44.35h9M401.5 44.35h-9"/>
</g>
<path d="M94.9 32.40H118.1M94.9 28.00v8.8M118.1 28.00v8.8" stroke="#E8890C" stroke-width="0.72" fill="none"/>
<circle cx="106.50" cy="32.40" r="4.5" fill="#E8890C"/>
<path d="M94.9 54.53H118.1M94.9 50.13v8.8M118.1 50.13v8.8" stroke="#D64A00" stroke-width="0.72" fill="none"/>
<path d="M106.50 49.83l4.5 7.3h-9z" fill="#D64A00"/>
<path d="M94.9 76.66H118.1M94.9 72.26v8.8M118.1 72.26v8.8" stroke="#BE2300" stroke-width="0.72" fill="none"/>
<path d="M106.50 81.36l4.5 -7.3h-9z" fill="#BE2300"/>
<path d="M94.9 98.79H118.1M94.9 94.39v8.8M118.1 94.39v8.8" stroke="#9400D3" stroke-width="0.72" fill="none"/>
<path d="M106.50 93.89l4.4 4.9l-4.4 4.9l-4.4 -4.9z" fill="#9400D3"/>
<path d="M94.9 120.92H118.1M94.9 116.52v8.8M118.1 116.52v8.8" stroke="#6E00FA" stroke-width="0.72" fill="none"/>
<path d="M106.50 125.92L102.03 122.67L103.74 117.42L109.26 117.42L110.97 122.67z" fill="#6E00FA"/>
<path d="M94.9 143.05H118.1M94.9 138.65v8.8M118.1 138.65v8.8" stroke="#6E28A0" stroke-width="0.72" fill="none"/>
<circle cx="106.50" cy="143.05" r="4.2" fill="none" stroke="#6E28A0" stroke-width="1"/>
</svg>
</body></html>
